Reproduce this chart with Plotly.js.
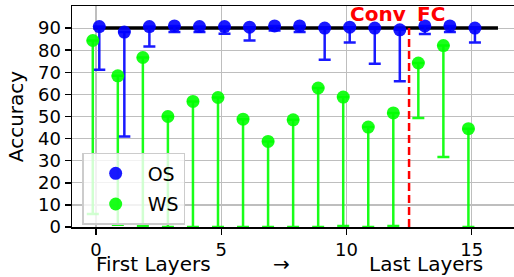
<!DOCTYPE html>
<html>
<head>
<meta charset="utf-8">
<script src="https://cdn.plot.ly/plotly-3.0.1.min.js"></script>
<style>html,body{margin:0;padding:0;background:#fff;}#chart{width:514px;height:277px;}</style>
</head>
<body>
<div id="chart"></div>
<script>
const layers = [0,1,2,3,4,5,6,7,8,9,10,11,12,13,14,15];
const osAcc   = [90.7,88.2,90.7,91.0,90.7,90.7,90.4,91.0,91.0,90.0,90.4,90.0,89.2,91.0,91.0,90.0];
const osLow   = [71.1,41.0,81.7,88.2,88.2,87.4,84.4,88.9,88.2,75.7,83.5,73.9,65.9,87.3,88.2,83.5];
const wsAcc   = [84.4,68.4,76.7,50.0,56.8,58.6,48.8,38.7,48.5,62.9,58.8,45.2,51.6,74.2,82.1,44.5];
const wsLow   = [5.9,1.0,0.5,0,0,0,0,0,0,0,0.5,0,0.5,49.3,31.7,0];
const refX = [-0.1, 16.05];
const refY = [90, 90];
const splitX = 12.5;
const splitY = [0, 90];
const yTicks = [0,10,20,30,40,50,60,70,80,90];
const xTicks = [0,5,10,15];
const dodge = 0.13;

const FONT = 'DejaVu Sans';
const blue = 'rgba(0,0,255,0.9)';
const green = 'rgba(0,255,0,0.9)';

const traces = [
  {x: refX, y: refY, mode: 'lines', line: {color: 'black', width: 3.5}, showlegend: false, hoverinfo: 'skip'},
  {x: [splitX, splitX], y: splitY, mode: 'lines', line: {color: 'rgb(255,0,0)', width: 2.5, dash: '8px,4px'}, showlegend: false, hoverinfo: 'skip'},
  {x: layers.map(v => v + dodge), y: osAcc, name: 'OS', mode: 'markers', legendgroup: 'a',
   marker: {color: blue, size: 13},
   error_y: {type: 'data', symmetric: false, array: osAcc.map(() => 0), arrayminus: osAcc.map((v, i) => v - osLow[i]), color: blue, thickness: 2.5, width: 6}},
  {x: layers.map(v => v - dodge), y: wsAcc, name: 'WS', mode: 'markers', legendgroup: 'b',
   marker: {color: green, size: 13},
   error_y: {type: 'data', symmetric: false, array: wsAcc.map(() => 0), arrayminus: wsAcc.map((v, i) => v - wsLow[i]), color: green, thickness: 2.5, width: 6}}
];

const layout = {
  width: 514, height: 277,
  margin: {l: 72, r: 0, t: 6, b: 50},
  paper_bgcolor: 'white', plot_bgcolor: 'white',
  font: {family: FONT, size: 18, color: 'black'},
  showlegend: true,
  legend: {x: 0.023, y: 0.335, xanchor: 'left', yanchor: 'top', bgcolor: 'rgba(255,255,255,0.8)',
           bordercolor: 'rgb(204,204,204)', borderwidth: 1.5, font: {family: FONT, size: 19},
           itemwidth: 54, tracegroupgap: 3},
  xaxis: {range: [-0.96, 16.69], tickvals: xTicks, ticktext: xTicks.map(String), showgrid: true,
          gridcolor: 'rgb(190,190,190)', gridwidth: 1.2, zeroline: false, showline: true, linecolor: 'black',
          linewidth: 1.5, mirror: true, ticks: 'outside', ticklen: 6, tickwidth: 1.5, tickcolor: 'black',
          ticklabelstandoff: 0, tickfont: {family: FONT, size: 18}},
  yaxis: {range: [0, 100], tickvals: yTicks, ticktext: yTicks.map(String), showgrid: true,
          gridcolor: 'rgb(190,190,190)', gridwidth: 1.2, zeroline: false, showline: true, linecolor: 'black',
          linewidth: 1.5, ticks: 'outside', ticklen: 6, tickwidth: 1.5, tickcolor: 'black',
          tickfont: {family: FONT, size: 18},
          title: {text: 'Accuracy', font: {family: FONT, size: 20}, standoff: 9}},
  annotations: [
    {xref: 'x', yref: 'y', x: splitX, y: 96.2, text: 'Conv', showarrow: false, xanchor: 'right', yanchor: 'middle', xshift: -1,
     font: {family: FONT, size: 20, color: 'rgb(255,0,0)', weight: 'bold'}},
    {xref: 'x', yref: 'y', x: splitX, y: 96.2, text: 'FC', showarrow: false, xanchor: 'left', yanchor: 'middle', xshift: 6,
     font: {family: FONT, size: 20, color: 'rgb(255,0,0)', weight: 'bold'}},
    {xref: 'paper', yref: 'paper', x: 0.05, y: 0, yshift: -23, xanchor: 'left', yanchor: 'top', text: 'First Layers', showarrow: false, font: {family: FONT, size: 20}},
    {xref: 'paper', yref: 'paper', x: 0.475, y: 0, yshift: -23, xanchor: 'center', yanchor: 'top', text: '→', showarrow: false, font: {family: FONT, size: 20}},
    {xref: 'paper', yref: 'paper', x: 0.935, y: 0, yshift: -23, xanchor: 'right', yanchor: 'top', text: 'Last Layers', showarrow: false, font: {family: FONT, size: 20}}
  ]
};

Plotly.newPlot('chart', traces, layout, {staticPlot: true, displayModeBar: false});
</script>
</body>
</html>
